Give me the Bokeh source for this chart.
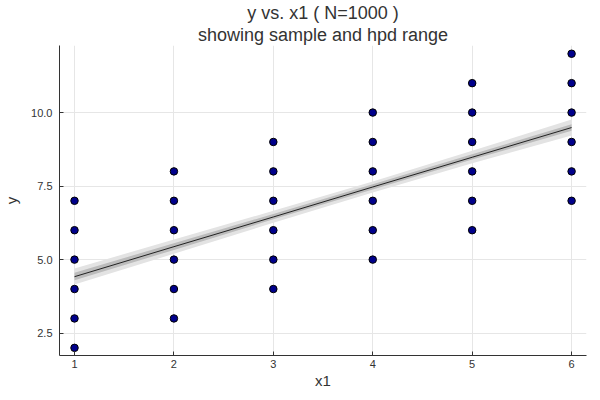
from bokeh.plotting import figure
from bokeh.embed import file_html
from bokeh.resources import INLINE
from bokeh.models import FixedTicker, Range1d, ColumnDataSource, Title

# Sample data (x1, y)
pts_x = [1, 1, 1, 1, 1, 1,
         2, 2, 2, 2, 2, 2,
         3, 3, 3, 3, 3, 3,
         4, 4, 4, 4, 4, 4,
         5, 5, 5, 5, 5, 5,
         6, 6, 6, 6, 6, 6]
pts_y = [2, 3, 4, 5, 6, 7,
         3, 4, 5, 6, 7, 8,
         4, 5, 6, 7, 8, 9,
         5, 6, 7, 8, 9, 10,
         6, 7, 8, 9, 10, 11,
         7, 8, 9, 10, 11, 12]

# Posterior mean line and hpd range
band_x = [1, 2, 3, 4, 5, 6]
hpd_lo = [4.15, 5.20, 6.25, 7.28, 8.28, 9.22]
hpd_hi = [4.70, 5.68, 6.66, 7.66, 8.70, 9.76]
mid_lo = [4.30, 5.33, 6.37, 7.38, 8.40, 9.38]
mid_hi = [4.55, 5.56, 6.55, 7.56, 8.58, 9.60]
mean_y = [4.42, 5.44, 6.45, 7.47, 8.48, 9.49]

title_main = "y vs. x1 ( N=1000 )"
title_sub = "showing sample and hpd range"
x_ticks = [1, 2, 3, 4, 5, 6]
y_ticks = [2.5, 5.0, 7.5, 10.0]
y_tick_labels = {2.5: "2.5", 5.0: "5.0", 7.5: "7.5", 10.0: "10.0"}

FONT = "Liberation Sans"

p = figure(frame_width=527, frame_height=310, output_backend="svg", toolbar_location=None,
           x_range=Range1d(0.849, 6.15), y_range=Range1d(1.74, 12.28),
           min_border_left=52, min_border_right=5,
           min_border_top=0, min_border_bottom=0)

p.outline_line_color = None
p.background_fill_color = "white"
p.border_fill_color = "white"

for txt, so in ((title_sub, 1), (title_main, 0)):
    t = Title(text=txt, align="center", text_font=FONT, text_font_size="18px",
              text_font_style="normal", text_color="#333333", standoff=so,
              text_line_height=1.0)
    p.add_layout(t, "above")

p.varea(x=band_x, y1=hpd_lo, y2=hpd_hi, fill_color="#e3e3e3", fill_alpha=1.0)
p.varea(x=band_x, y1=mid_lo, y2=mid_hi, fill_color="#bcbcbc", fill_alpha=1.0)
p.line(x=band_x, y=mean_y, line_color="#222222", line_width=1)

src = ColumnDataSource(dict(x=pts_x, y=pts_y))
p.scatter("x", "y", source=src, size=7.5, fill_color="#00008b",
          line_color="black", line_width=1)

for ax, ticks, lab in ((p.xaxis[0], x_ticks, "x1"), (p.yaxis[0], y_ticks, "y")):
    ax.ticker = FixedTicker(ticks=ticks)
    ax.axis_label = lab
    ax.axis_label_text_font = FONT
    ax.axis_label_text_font_size = "15px"
    ax.axis_label_text_font_style = "normal"
    ax.axis_label_text_color = "#333333"
    ax.major_label_text_font = FONT
    ax.major_label_text_font_size = "11px"
    ax.major_label_text_color = "#333333"
    ax.axis_line_color = "#333333"
    ax.major_tick_line_color = "#333333"
    ax.major_tick_in = 4
    ax.major_tick_out = 0
    ax.minor_tick_line_color = None

p.yaxis[0].major_label_overrides = y_tick_labels
p.yaxis[0].major_label_standoff = 7
p.yaxis[0].axis_label_standoff = 8
p.xaxis[0].major_label_standoff = 4
p.xaxis[0].axis_label_standoff = 1

p.xgrid.grid_line_color = "#e6e6e6"
p.ygrid.grid_line_color = "#e6e6e6"
p.xgrid.ticker = FixedTicker(ticks=x_ticks)
p.ygrid.ticker = FixedTicker(ticks=y_ticks)

open("out.html", "w").write(file_html(p, INLINE))
